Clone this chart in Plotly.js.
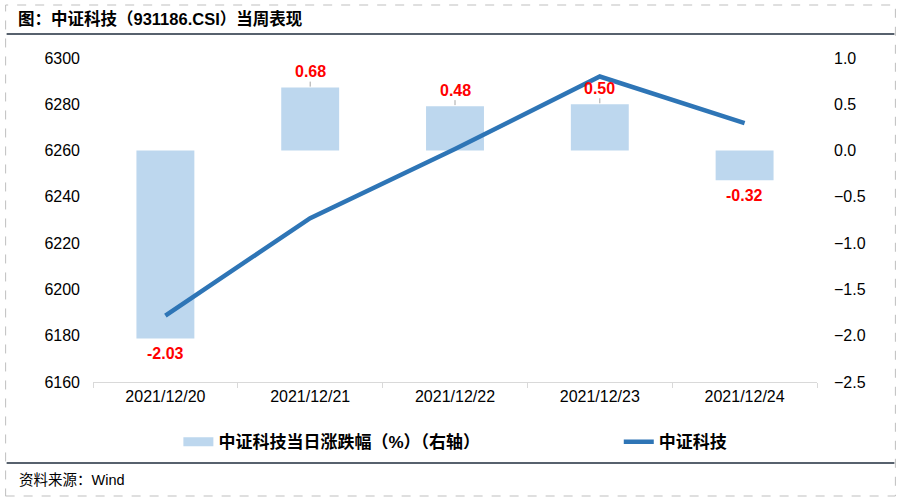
<!DOCTYPE html>
<html>
<head>
<meta charset="utf-8">
<script src="https://cdn.plot.ly/plotly-3.0.1.min.js"></script>
<style>html,body{margin:0;padding:0;background:#fff;}#chart{width:901px;height:500px;}</style>
</head>
<body>
<div id="chart"></div>
<script>
const dates = ['2021/12/20', '2021/12/21', '2021/12/22', '2021/12/23', '2021/12/24'];
const pctChange = [-2.03, 0.68, 0.48, 0.50, -0.32];
const closeIdx = [6188.7, 6230.8, 6260.7, 6292.0, 6271.9];
const barName = '中证科技当日涨跌幅（%）（右轴）';
const lineName = '中证科技';
const leftTicks = [6160, 6180, 6200, 6220, 6240, 6260, 6280, 6300];
const rightTicks = [-2.5, -2.0, -1.5, -1.0, -0.5, 0.0, 0.5, 1.0];

const FONT = 'Liberation Sans, Arial, "Noto Sans CJK SC", sans-serif';
const barColor = '#BDD7EE';
const lineColor = '#2E75B6';

const traces = [
  {
    type: 'bar', x: dates, y: pctChange, yaxis: 'y', xaxis: 'x',
    marker: {color: barColor}, width: 0.4, showlegend: false, name: barName,
    hoverinfo: 'skip'
  },
  {
    type: 'scatter', mode: 'lines', x: [null], y: [null], yaxis: 'y', xaxis: 'x',
    line: {color: barColor, width: 9}, name: barName, showlegend: true, legend: 'legend'
  },
  {
    type: 'scatter', mode: 'lines', x: dates, y: closeIdx, yaxis: 'y2', xaxis: 'x',
    line: {color: lineColor, width: 4.5, shape: 'linear'}, name: lineName, legend: 'legend2'
  }
];

const annotations = dates.map((d, i) => {
  const v = pctChange[i];
  const pos = v >= 0;
  const a = {
    x: d, y: v, xref: 'x', yref: 'y',
    text: '<b>' + v.toFixed(2) + '</b>',
    font: {family: FONT, size: 16, color: '#FF0000'}
  };
  if (pos) {
    Object.assign(a, {showarrow: true, ax: 0, ay: -16, arrowhead: 0, arrowwidth: 1,
      arrowcolor: '#A6A6A6', standoff: 1});
  } else {
    Object.assign(a, {showarrow: false, yanchor: 'top', yshift: -5});
  }
  return a;
});

annotations.push({
  xref: 'paper', yref: 'paper', x: -0.105, y: -0.302, xanchor: 'left', yanchor: 'middle',
  text: '资料来源：Wind', showarrow: false,
  font: {family: FONT, size: 14.5, color: '#000'}
});

const legendBase = {
  orientation: 'h', xanchor: 'left', y: -0.13, yanchor: 'top',
  font: {family: FONT, size: 17, color: '#000', weight: 'bold'},
  bgcolor: 'rgba(0,0,0,0)', itemclick: false
};

const layout = {
  width: 901, height: 500,
  margin: {l: 92.5, r: 83.5, t: 58, b: 118, pad: 0},
  paper_bgcolor: '#fff', plot_bgcolor: '#fff',
  title: {
    text: '<b>图：中证科技（931186.CSI）当周表现</b>',
    x: 18 / 901, xref: 'container', xanchor: 'left',
    y: 1 - 19 / 500, yref: 'container', yanchor: 'middle',
    font: {family: FONT, size: 16.5, color: '#000'}
  },
  font: {family: FONT, size: 16, color: '#000'},
  xaxis: {
    type: 'category', categoryorder: 'array', categoryarray: dates,
    tickson: 'boundaries', ticks: 'outside', ticklen: 5, tickcolor: '#D9D9D9',
    showline: true, linecolor: '#D9D9D9', linewidth: 1,
    showgrid: false, zeroline: false,
    tickfont: {family: FONT, size: 16, color: '#000'}
  },
  yaxis: {
    side: 'right', range: [-2.5, 1.0], tickvals: rightTicks, tickformat: '.1f',
    showgrid: false, zeroline: false, showline: false, ticks: '',
    ticklabelstandoff: 16,
    tickfont: {family: FONT, size: 16, color: '#000'}
  },
  yaxis2: {
    side: 'left', overlaying: 'y', range: [6160, 6300], tickvals: leftTicks,
    showgrid: false, zeroline: false, showline: false, ticks: '',
    ticklabelstandoff: 12,
    tickfont: {family: FONT, size: 16, color: '#000'}
  },
  showlegend: true,
  legend: Object.assign({}, legendBase, {x: (178 - 92.5) / 725}),
  legend2: Object.assign({}, legendBase, {x: (619 - 92.5) / 725}),
  shapes: [
    {type: 'rect', xref: 'paper', yref: 'paper',
     x0: (5 - 92.5) / 725, x1: (896 - 92.5) / 725, y0: (382 - 496) / 324, y1: (382 - 5) / 324,
     line: {color: '#BFBFBF', width: 1, dash: 'dash'}},
    {type: 'line', xref: 'paper', yref: 'paper',
     x0: (6 - 92.5) / 725, x1: (895 - 92.5) / 725, y0: (382 - 34) / 324, y1: (382 - 34) / 324,
     line: {color: '#1F2D3D', width: 1.5}},
    {type: 'line', xref: 'paper', yref: 'paper',
     x0: (6 - 92.5) / 725, x1: (895 - 92.5) / 725, y0: (382 - 463) / 324, y1: (382 - 463) / 324,
     line: {color: '#1F2D3D', width: 1.5}}
  ],
  annotations: annotations
};

Plotly.newPlot('chart', traces, layout, {displayModeBar: false, staticPlot: true});
</script>
</body>
</html>
